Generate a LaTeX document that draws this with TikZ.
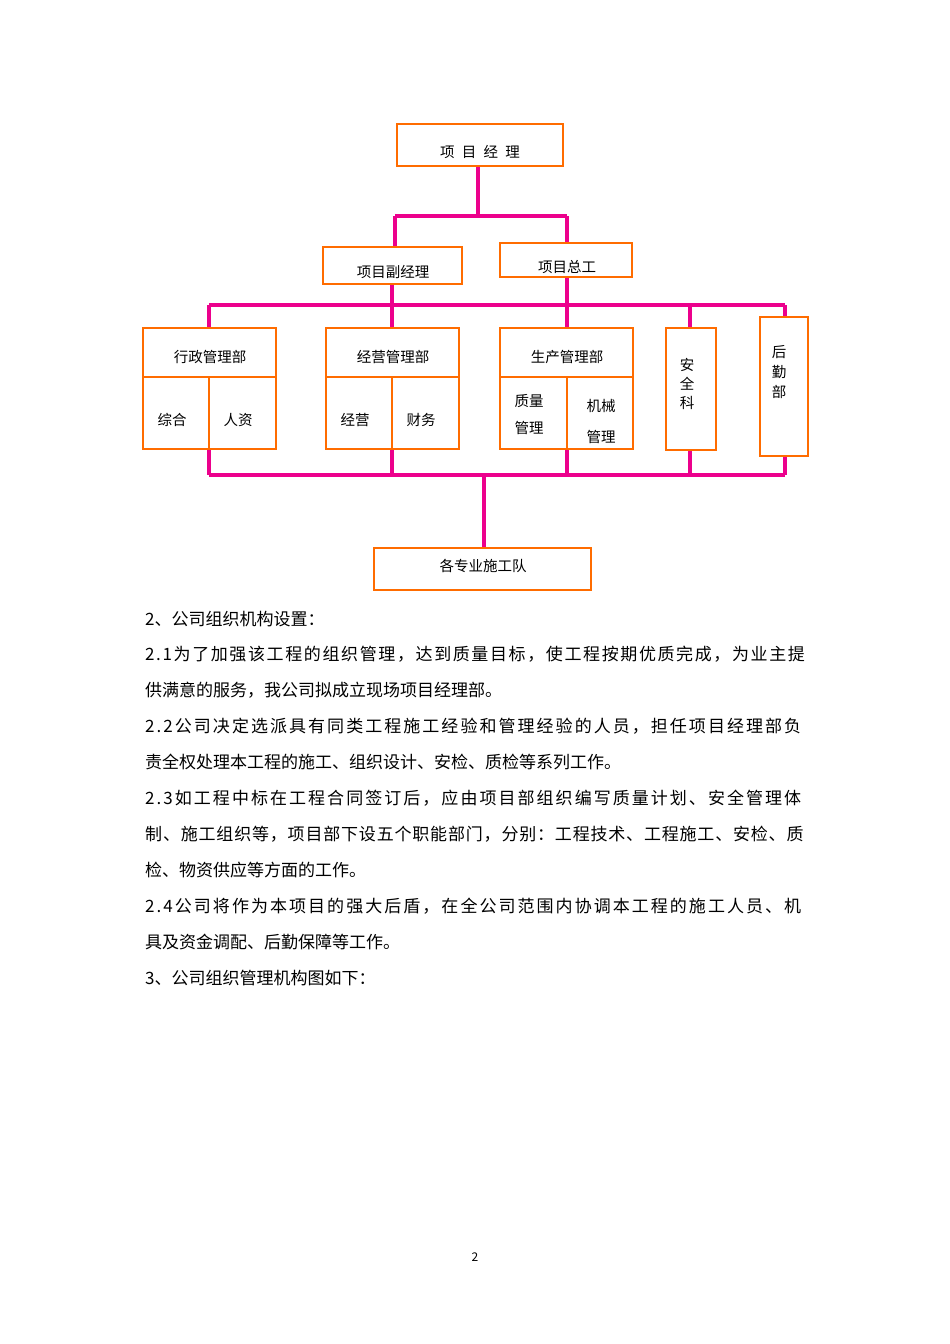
\documentclass[tikz,border=0pt]{standalone}
\usepackage{fontspec}
\newfontfamily\cjk{Noto Sans CJK SC}
\newfontfamily\cjkA[LetterSpace=9.5]{Noto Sans CJK SC}
\newfontfamily\cjkB[LetterSpace=12]{Noto Sans CJK SC}
\newfontfamily\cjkC[LetterSpace=4.8]{Noto Sans CJK SC}
\begin{document}
\begin{tikzpicture}[x=1pt,y=-1pt,
  box/.style={draw=orange!85!red,line width=1.2pt},
  ln/.style={draw=magenta,line width=3.5pt},
  ct/.style={font=\cjk\fontsize{14.5}{16}\selectfont,inner sep=0pt},
  bt/.style={font=\cjk\fontsize{17}{19}\selectfont,anchor=west,inner sep=0pt}]
\useasboundingbox (0,0) rectangle (950,1344);
% connectors
\coordinate (a1) at (478,216);
\draw[ln] (478,166) -- (a1);
\draw[ln] (395,216) -- (567,216);
\draw[ln] (395,216) -- (395,247);
\draw[ln] (567,216) -- (567,243);
\draw[ln] (209,305) -- (785,305);
\draw[ln] (209,305) -- (209,328);
\draw[ln] (392,284) -- (392,328);
\draw[ln] (567,277) -- (567,328);
\draw[ln] (690,305) -- (690,328);
\draw[ln] (785,305) -- (785,317);
\draw[ln] (209,475) -- (785,475);
\draw[ln] (209,449) -- (209,475);
\draw[ln] (392,449) -- (392,475);
\draw[ln] (567,449) -- (567,475);
\draw[ln] (690,450) -- (690,475);
\draw[ln] (785,456) -- (785,475);
\draw[ln] (484,475) -- (484,548);
% boxes
\draw[box,fill=white] (397,124) rectangle (563,166);
\node[ct] (pm) at (480,152) {项\enspace 目\enspace 经\enspace 理};
\draw[box,fill=white] (323,247) rectangle (462,284);
\node[ct] (dpm) at (393,272) {项目副经理};
\draw[box,fill=white] (500,243) rectangle (632,277);
\node[ct] (ce) at (567,267) {项目总工};
\foreach \x/\t/\l/\r in {143/行政管理部/综合/人资,326/经营管理部/经营/财务}{
  \draw[box,fill=white] (\x,328) rectangle (\x+133,449);
  \draw[box] (\x,377) -- (\x+133,377) (\x+66,377) -- (\x+66,449);
  \node[ct] at (\x+67,357) {\t};
  \node[ct] at (\x+29,420) {\l};
  \node[ct] at (\x+95,420) {\r};
}
\draw[box,fill=white] (500,328) rectangle (633,449);
\draw[box] (500,377) -- (633,377) (567,377) -- (567,449);
\node[ct] (sc) at (567,357) {生产管理部};
\node[ct] at (529,401) {质量};
\node[ct] at (529,428) {管理};
\node[ct] at (601,406) {机械};
\node[ct] at (601,437) {管理};
\draw[box,fill=white] (666,328) rectangle (716,450);
\node[ct] at (687,365) {安};
\node[ct] at (687,384) {全};
\node[ct] at (687,403) {科};
\draw[box,fill=white] (760,317) rectangle (808,456);
\node[ct] at (779,352) {后};
\node[ct] at (779,372) {勤};
\node[ct] at (779,392) {部};
\draw[box,fill=white] (374,548) rectangle (591,590);
\node[ct] (team) at (483,566) {各专业施工队};
% body text
\node[bt] at (145,619) {2、公司组织机构设置：};
\node[bt] at (145,654) {\cjkA 2.1为了加强该工程的组织管理，达到质量目标，使工程按期优质完成，为业主提};
\node[bt] at (145,690) {供满意的服务，我公司拟成立现场项目经理部。};
\node[bt] at (145,726) {\cjkB 2.2公司决定选派具有同类工程施工经验和管理经验的人员，担任项目经理部负};
\node[bt] at (145,762) {责全权处理本工程的施工、组织设计、安检、质检等系列工作。};
\node[bt] at (145,798) {\cjkB 2.3如工程中标在工程合同签订后，应由项目部组织编写质量计划、安全管理体};
\node[bt] at (145,834) {\cjkC 制、施工组织等，项目部下设五个职能部门，分别：工程技术、工程施工、安检、质};
\node[bt] at (145,870) {检、物资供应等方面的工作。};
\node[bt] at (145,906) {\cjkB 2.4公司将作为本项目的强大后盾，在全公司范围内协调本工程的施工人员、机};
\node[bt] at (145,942) {具及资金调配、后勤保障等工作。};
\node[bt] at (145,978) {3、公司组织管理机构图如下：};
\node[ct,font=\cjk\fontsize{12}{14}\selectfont] at (475,1257) {2};
\end{tikzpicture}
\end{document}
